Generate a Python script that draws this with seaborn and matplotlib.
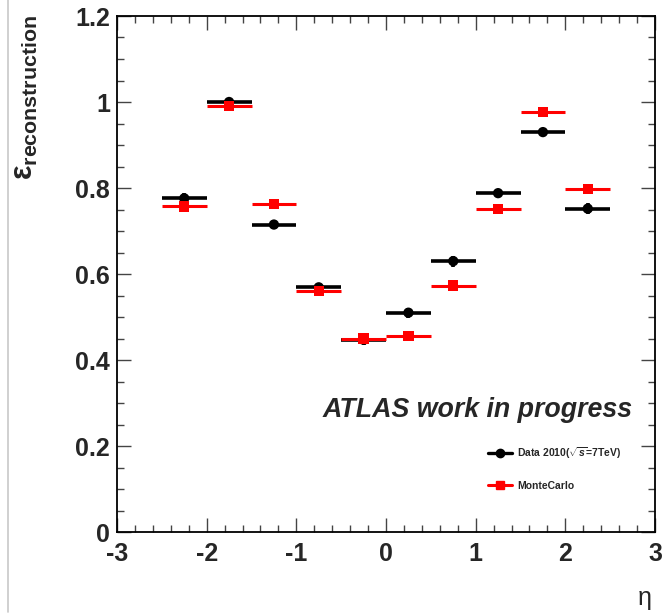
# -*- Description: reconstruction efficiency vs eta, data vs MC -*-

# import libraries
import matplotlib
matplotlib.use("Agg")
import matplotlib.pyplot as plt
import matplotlib.lines as mlines
from matplotlib.ticker import MultipleLocator
import seaborn as sns
import pandas as pd

# data
eta_bins = [-2.25, -1.75, -1.25, -0.75, -0.25, 0.25, 0.75, 1.25, 1.75, 2.25]
eff_data = [0.776, 1.000, 0.715, 0.569, 0.447, 0.510, 0.630, 0.788, 0.930, 0.752]
err_data = [0.012, 0.006, 0.010, 0.010, 0.011, 0.012, 0.013, 0.010, 0.007, 0.013]
eff_mc = [0.757, 0.991, 0.763, 0.560, 0.450, 0.456, 0.573, 0.751, 0.976, 0.797]
err_mc = [0.004, 0.003, 0.004, 0.004, 0.004, 0.004, 0.004, 0.004, 0.003, 0.004]
half_width = 0.25

sns.set_theme(style="ticks")
plt.rcParams['font.family'] = ['Liberation Sans', 'DejaVu Sans']
plt.rcParams['mathtext.fontset'] = 'custom'
plt.rcParams['mathtext.rm'] = 'Liberation Sans:bold'
plt.rcParams['mathtext.it'] = 'Liberation Sans:bold:italic'
plt.rcParams['axes.unicode_minus'] = False

df = pd.DataFrame({
    "eta": eta_bins * 2,
    "eff": eff_data + eff_mc,
    "sample": ["Data"] * len(eta_bins) + ["MC"] * len(eta_bins),
})

fig = plt.figure(figsize=(6.63, 6.15), dpi=100)
ax = fig.add_axes([117 / 663, 1 - 532 / 615, 538 / 663, 516 / 615])

# horizontal bin widths + stat errors
ax.errorbar(eta_bins, eff_data, xerr=half_width, yerr=err_data, fmt="none",
            ecolor="black", elinewidth=2.6, capsize=0, zorder=2)
ax.errorbar(eta_bins, eff_mc, xerr=half_width, yerr=err_mc, fmt="none",
            ecolor="red", elinewidth=2.2, capsize=0, zorder=4)

sns.scatterplot(data=df, x="eta", y="eff", hue="sample", style="sample",
                palette={"Data": "black", "MC": "red"},
                markers={"Data": "o", "MC": "s"}, s=55, linewidth=0,
                legend=False, ax=ax, zorder=5)

ax.set_xlim(-3, 3)
ax.set_ylim(0, 1.2)
ax.xaxis.set_major_locator(MultipleLocator(1))
ax.xaxis.set_minor_locator(MultipleLocator(0.2))
ax.yaxis.set_minor_locator(MultipleLocator(0.05))
ax.set_yticks([0, 0.2, 0.4, 0.6, 0.8, 1.0, 1.2])
ax.set_yticklabels(["0", "0.2", "0.4", "0.6", "0.8", "1", "1.2"])
ax.tick_params(which="both", direction="in", top=True, right=True,
               color="#444444", width=1)
ax.tick_params(which="major", length=10, labelsize=18, pad=5)
ax.tick_params(which="minor", length=5)
ax.tick_params(axis="x", which="major", pad=7)
for lab in ax.get_xticklabels() + ax.get_yticklabels():
    lab.set_fontweight("bold")
for sp in ax.spines.values():
    sp.set_linewidth(1.3)
    sp.set_color("black")

ax.set_xlabel("")
ax.set_ylabel("")
fig.text(645 / 663, 1 - 598 / 615, "η", fontsize=18, ha="center", va="center")
fig.text(10 / 663, 1 - 15 / 615, r"$\mathrm{ε_{reconstruction}}$",
         fontsize=22, rotation=90, ha="left", va="top")

ax.text(0.382, 0.222, "ATLAS work in progress", transform=ax.transAxes,
        fontsize=19.3, fontweight="bold", fontstyle="italic", ha="left")

h_data = mlines.Line2D([], [], color="black", lw=2.4, marker="o", markersize=6)
h_mc = mlines.Line2D([], [], color="red", lw=2.2, marker="s", markersize=6)
ax.legend([h_data, h_mc], ["Data 2010($\\sqrt{s}$=7TeV)", "MonteCarlo"],
          loc="upper left", bbox_to_anchor=(0.672, 0.186), frameon=False,
          prop={"size": 7.5, "weight": "bold"}, handlelength=2.3,
          labelspacing=1.9, handletextpad=0.5)

# grey canvas edge on the left
fig.add_artist(mlines.Line2D([8 / 663, 8 / 663], [1 - 612 / 615, 1.0],
                             color="#c8c8c8", lw=1.2, transform=fig.transFigure))

fig.savefig("out.png", dpi=100)
